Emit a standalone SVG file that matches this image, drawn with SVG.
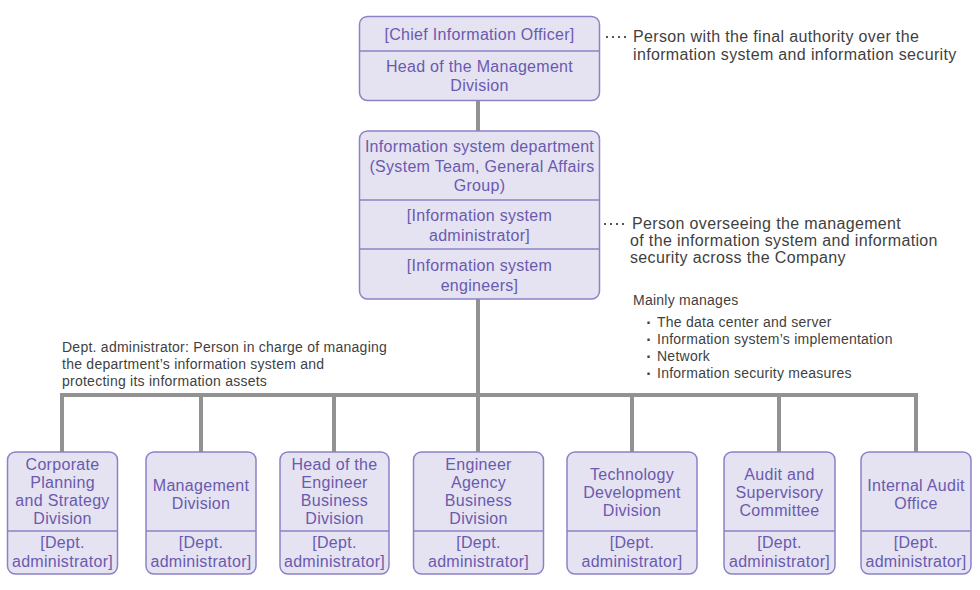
<svg xmlns="http://www.w3.org/2000/svg" width="980" height="590" viewBox="0 0 980 590">
<style>
.box{fill:#e5e2f2;stroke:#8b82c6;stroke-width:1.5}
.div{stroke:#8b82c6;stroke-width:1.5}
.t{font-family:"Liberation Sans",Arial,sans-serif;font-size:16px;letter-spacing:0.3px;fill:#6a5aae;text-anchor:middle}
.n{font-family:"Liberation Sans",Arial,sans-serif;font-size:16px;letter-spacing:0.35px;fill:#3f3f3f}
.s{font-family:"Liberation Sans",Arial,sans-serif;font-size:14px;letter-spacing:0.25px;fill:#3f3f3f}
.b{font-family:"Liberation Sans",Arial,sans-serif;font-size:16px;font-weight:bold;fill:#3f3f3f;text-anchor:middle}
.c{stroke:#929292;stroke-width:4;fill:none}
.dot{stroke:#555;stroke-width:2;stroke-dasharray:2 4;fill:none}
</style>
<rect width="980" height="590" fill="#fff"/>
<g id="connectors">
<line class="c" x1="478" y1="100" x2="478" y2="131"/>
<line class="c" x1="478" y1="299" x2="478" y2="395"/>
<polyline class="c" points="62,452 62,395 916,395 916,452"/>
<line class="c" x1="201" y1="395" x2="201" y2="452"/>
<line class="c" x1="334" y1="395" x2="334" y2="452"/>
<line class="c" x1="478" y1="395" x2="478" y2="452"/>
<line class="c" x1="632" y1="395" x2="632" y2="452"/>
<line class="c" x1="779" y1="395" x2="779" y2="452"/>
</g>
<g id="cio">
<rect class="box" x="359.5" y="16.5" width="240" height="84" rx="8"/>
<line class="div" x1="359.5" y1="51" x2="599.5" y2="51"/>
<text class="t" x="479.5" y="40">[Chief Information Officer]</text>
<text class="t" x="479.5" y="72">Head of the Management</text>
<text class="t" x="479.5" y="91">Division</text>
</g>
<g id="isd">
<rect class="box" x="359.5" y="131" width="240" height="168" rx="8"/>
<line class="div" x1="359.5" y1="200" x2="599.5" y2="200"/>
<line class="div" x1="359.5" y1="249" x2="599.5" y2="249"/>
<text class="t" x="479.5" y="152">Information system department</text>
<text class="t" x="482" y="172">(System Team, General Affairs</text>
<text class="t" x="479.5" y="191">Group)</text>
<text class="t" x="479.5" y="221">[Information system</text>
<text class="t" x="479.5" y="241">administrator]</text>
<text class="t" x="479.5" y="271">[Information system</text>
<text class="t" x="479.5" y="291">engineers]</text>
</g>
<g id="note1">
<line class="dot" x1="606" y1="37" x2="630" y2="37"/>
<text class="n" x="633" y="42">Person with the final authority over the</text>
<text class="n" x="633" y="60">information system and information security</text>
</g>
<g id="note2">
<line class="dot" x1="604" y1="224" x2="628" y2="224"/>
<text class="n" x="632" y="229">Person overseeing the management</text>
<text class="n" x="630" y="246">of the information system and information</text>
<text class="n" x="630" y="263">security across the Company</text>
</g>
<g id="note3">
<text class="s" x="633" y="305">Mainly manages</text>
<text class="b" x="649" y="328">·</text>
<text class="s" x="657" y="327">The data center and server</text>
<text class="b" x="649" y="345">·</text>
<text class="s" x="657" y="344">Information system’s implementation</text>
<text class="b" x="649" y="362">·</text>
<text class="s" x="657" y="361">Network</text>
<text class="b" x="649" y="379">·</text>
<text class="s" x="657" y="378">Information security measures</text>
</g>
<g id="note4">
<text class="s" x="62" y="352">Dept. administrator: Person in charge of managing</text>
<text class="s" x="62" y="369">the department’s information system and</text>
<text class="s" x="62" y="386">protecting its information assets</text>
</g>
<g id="d1">
<rect class="box" x="7.5" y="452" width="110" height="122" rx="8"/>
<line class="div" x1="7.5" y1="531" x2="117.5" y2="531"/>
<text class="t" x="62.5" y="470">Corporate</text>
<text class="t" x="62.5" y="488">Planning</text>
<text class="t" x="62.5" y="506">and Strategy</text>
<text class="t" x="62.5" y="524">Division</text>
<text class="t" x="62.5" y="548">[Dept.</text>
<text class="t" x="62.5" y="567">administrator]</text>
</g>
<g id="d2">
<rect class="box" x="146" y="452" width="110" height="122" rx="8"/>
<line class="div" x1="146" y1="531" x2="256" y2="531"/>
<text class="t" x="201" y="491">Management</text>
<text class="t" x="201" y="509">Division</text>
<text class="t" x="201" y="548">[Dept.</text>
<text class="t" x="201" y="567">administrator]</text>
</g>
<g id="d3">
<rect class="box" x="280" y="452" width="109" height="122" rx="8"/>
<line class="div" x1="280" y1="531" x2="389" y2="531"/>
<text class="t" x="334.5" y="470">Head of the</text>
<text class="t" x="334.5" y="488">Engineer</text>
<text class="t" x="334.5" y="506">Business</text>
<text class="t" x="334.5" y="524">Division</text>
<text class="t" x="334.5" y="548">[Dept.</text>
<text class="t" x="334.5" y="567">administrator]</text>
</g>
<g id="d4">
<rect class="box" x="413.5" y="452" width="130" height="122" rx="8"/>
<line class="div" x1="413.5" y1="531" x2="543.5" y2="531"/>
<text class="t" x="478.5" y="470">Engineer</text>
<text class="t" x="478.5" y="488">Agency</text>
<text class="t" x="478.5" y="506">Business</text>
<text class="t" x="478.5" y="524">Division</text>
<text class="t" x="478.5" y="548">[Dept.</text>
<text class="t" x="478.5" y="567">administrator]</text>
</g>
<g id="d5">
<rect class="box" x="567" y="452" width="130" height="122" rx="8"/>
<line class="div" x1="567" y1="531" x2="697" y2="531"/>
<text class="t" x="632" y="480">Technology</text>
<text class="t" x="632" y="498">Development</text>
<text class="t" x="632" y="516">Division</text>
<text class="t" x="632" y="548">[Dept.</text>
<text class="t" x="632" y="567">administrator]</text>
</g>
<g id="d6">
<rect class="box" x="724" y="452" width="111" height="122" rx="8"/>
<line class="div" x1="724" y1="531" x2="835" y2="531"/>
<text class="t" x="779.5" y="480">Audit and</text>
<text class="t" x="779.5" y="498">Supervisory</text>
<text class="t" x="779.5" y="516">Committee</text>
<text class="t" x="779.5" y="548">[Dept.</text>
<text class="t" x="779.5" y="567">administrator]</text>
</g>
<g id="d7">
<rect class="box" x="861" y="452" width="110" height="122" rx="8"/>
<line class="div" x1="861" y1="531" x2="971" y2="531"/>
<text class="t" x="916" y="491">Internal Audit</text>
<text class="t" x="916" y="509">Office</text>
<text class="t" x="916" y="548">[Dept.</text>
<text class="t" x="916" y="567">administrator]</text>
</g>
</svg>
